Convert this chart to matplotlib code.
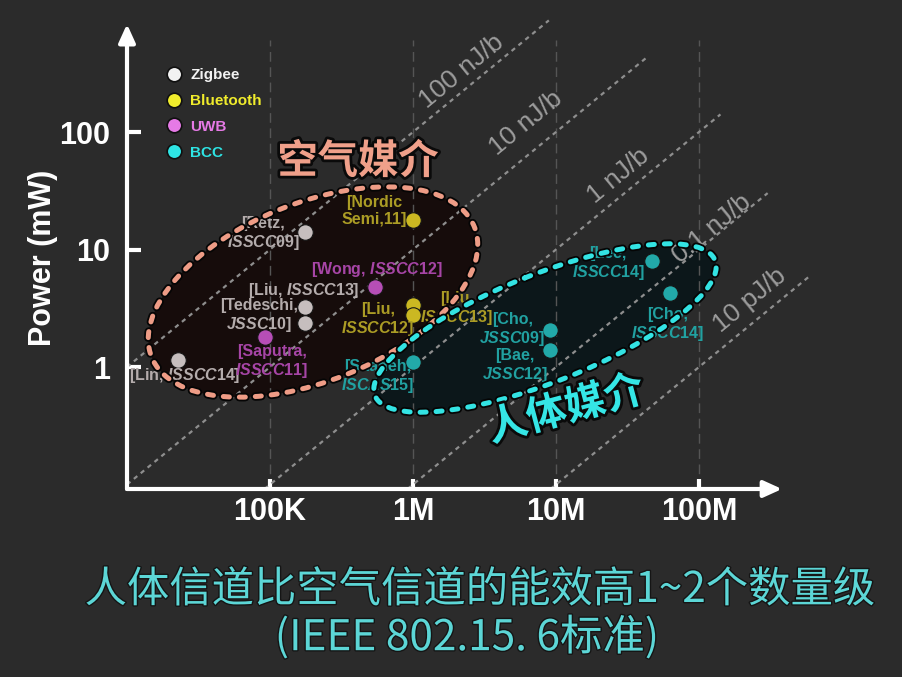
import numpy as np
import matplotlib
matplotlib.use('Agg')
import matplotlib.pyplot as plt
from matplotlib.patches import Ellipse
from matplotlib.lines import Line2D
from matplotlib.ticker import NullLocator
import matplotlib.patheffects as pe

plt.rcParams['font.family'] = ['Liberation Sans', 'Noto Sans CJK SC', 'DejaVu Sans']
plt.rcParams['mathtext.fontset'] = 'custom'
plt.rcParams['mathtext.it'] = 'Liberation Sans:italic:bold'
plt.rcParams['mathtext.rm'] = 'Liberation Sans:bold'
plt.rcParams['mathtext.bf'] = 'Liberation Sans:bold'

# ---------------- data ----------------
standards = ['Zigbee', 'Bluetooth', 'UWB', 'BCC']
work_std = ['Zigbee', 'Zigbee', 'Zigbee', 'Zigbee', 'UWB', 'UWB', 'Bluetooth',
            'Bluetooth', 'Bluetooth', 'BCC', 'BCC', 'BCC', 'BCC', 'BCC']
data_rate = [2.27e4, 1.76e5, 1.76e5, 1.76e5, 9.2e4, 5.4e5, 1.0e6,
             1.0e6, 1.0e6, 1.0e6, 9.1e6, 9.1e6, 4.7e7, 6.3e7]
power_mw = [1.15, 14.0, 3.24, 2.37, 1.8, 4.8, 17.7,
            3.37, 2.77, 1.1, 2.07, 1.4, 8.0, 4.3]
work_labels = ['[Lin, $\\mathit{ISSCC14}$]',
               '[Retz,\n$\\mathit{ISSCC09}$]',
               '[Liu, $\\mathit{ISSCC13}$]',
               '[Tedeschi,\n$\\mathit{JSSC10}$]',
               '[Saputra,\n$\\mathit{ISSCC11}$]',
               '[Wong, $\\mathit{ISSCC12}$]',
               '[Nordic\nSemi,11]',
               '[Liu,\n$\\mathit{ISSCC12}$]',
               '[Liu,\n$\\mathit{ISSCC13}$]',
               '[Saadeh,\n$\\mathit{ISCAS15}$]',
               '[Cho,\n$\\mathit{JSSC09}$]',
               '[Bae,\n$\\mathit{JSSC12}$]',
               '[Lee,\n$\\mathit{ISSCC14}$]',
               '[Cho,\n$\\mathit{ISSCC14}$]']

xtick_vals = [1e5, 1e6, 1e7, 1e8]
xtick_labels = ['100K', '1M', '10M', '100M']
ytick_vals = [1, 10, 100]
ytick_labels = ['1', '10', '100']

energy_jpb = [100e-9, 10e-9, 1e-9, 0.1e-9, 10e-12]
energy_labels = ['100 nJ/b', '10 nJ/b', '1 nJ/b', '0.1 nJ/b', '10 pJ/b']
energy_end_rate = [10 ** 6.95, 10 ** 7.64, 10 ** 8.15, 10 ** 8.48, 10 ** 8.78]
energy_label_rate = [10 ** 6.343, 10 ** 6.79, 10 ** 7.434, 10 ** 8.091, 10 ** 8.357]
energy_label_power = [10 ** 2.511, 10 ** 2.077, 10 ** 1.626, 10 ** 1.174, 10 ** 0.57]

region_labels = ['空气媒介', '人体媒介']
caption_lines = ['人体信道比空气信道的能效高1~2个数量级', '(IEEE 802.15. 6标准)']

# ---------------- style ----------------
BG = '#2b2b2b'
legend_colors = ['#f2f2f2', '#f0ec2c', '#e67ae6', '#2ee4e4']
point_colors = {'Zigbee': '#c6bebe', 'Bluetooth': '#cbb822', 'UWB': '#b64eb6', 'BCC': '#22a9a9'}
label_colors = {'Zigbee': '#b4acac', 'Bluetooth': '#ab9c25', 'UWB': '#a645a6', 'BCC': '#21a1a1'}
label_offsets = [(7, -16), (-42, -2), (-1, 17), (-46, 7), (7, -25), (2, 17), (-39, 9),
                 (-35, -15), (44, 6), (-35, -15), (-38, 0), (-35, -16), (-44, -3), (-3, -32)]

W, H = 903, 677
fig = plt.figure(figsize=(W / 100, H / 100), dpi=100, facecolor=BG)


def fx(px):
    return px / W


def fy(py):
    return 1 - py / H


ELL_AIR = dict(xy=(313, 292), width=348, height=178, angle=-22)
ELL_BODY = dict(xy=(545, 328), width=366, height=108, angle=-21.7)

# background overlay (ellipse fills)
bg_ax = fig.add_axes([0, 0, 1, 1], zorder=0)
bg_ax.set_xlim(0, W)
bg_ax.set_ylim(H, 0)
bg_ax.axis('off')
bg_ax.add_patch(Ellipse(**ELL_AIR, facecolor='#160c0b', edgecolor='none'))
bg_ax.add_patch(Ellipse(**ELL_BODY, facecolor='#0c171a', edgecolor='none'))

# main axes
ax = fig.add_axes([fx(127), fy(489), (770 - 127) / W, (489 - 35) / H], zorder=1)
ax.set_facecolor('none')
ax.set_xscale('log')
ax.set_yscale('log')
ax.set_xlim(1e4, 10 ** 8.4965)
ax.set_ylim(10 ** -1.038, 10 ** 2.8255)
for s in ax.spines.values():
    s.set_visible(False)

ax.set_xticks(xtick_vals)
ax.set_xticklabels(xtick_labels)
ax.set_yticks(ytick_vals)
ax.set_yticklabels(ytick_labels)
ax.xaxis.set_minor_locator(NullLocator())
ax.yaxis.set_minor_locator(NullLocator())
ax.tick_params(axis='x', direction='in', length=7, width=3, color='white',
               labelsize=22, labelcolor='white', pad=6)
ax.tick_params(axis='y', direction='in', length=10, width=3, color='white',
               labelsize=22, labelcolor='white', pad=12)
for lbl in ax.get_xticklabels() + ax.get_yticklabels():
    lbl.set_fontweight('bold')

ax.set_ylabel('Power (mW)', fontsize=22, fontweight='bold', color='white')
ax.yaxis.set_label_coords(-0.107, 0.509)

# vertical dashed grid
for xv in xtick_vals:
    ax.axvline(xv, ymin=0, ymax=0.99, color='#555555', lw=1.0, ls=(0, (7, 4)), zorder=1)

# energy-per-bit lines
ylo = ax.get_ylim()[0]
xlo = ax.get_xlim()[0]
for E, lab, rend, rl, pl in zip(energy_jpb, energy_labels, energy_end_rate,
                                energy_label_rate, energy_label_power):
    r0 = max(xlo, ylo / (E * 1e3))
    r = np.array([r0, rend])
    ax.plot(r, E * r * 1e3, color='#8e8e8e', lw=1.6, ls=(0, (2, 2)), clip_on=False, zorder=2)
    p1 = ax.transData.transform((1e5, E * 1e5 * 1e3))
    p2 = ax.transData.transform((1e6, E * 1e6 * 1e3))
    ang = np.degrees(np.arctan2(p2[1] - p1[1], p2[0] - p1[0]))
    ax.text(rl, pl, lab, rotation=ang, rotation_mode='anchor', ha='center', va='center',
            fontsize=19, color='#9c9c9c', zorder=2, clip_on=False)

# data points and labels
for r, p, st, txt, off in zip(data_rate, power_mw, work_std, work_labels, label_offsets):
    ax.scatter([r], [p], s=125, color=point_colors[st], edgecolors='#151515',
               linewidths=0.8, zorder=4, clip_on=False)
    ax.annotate(txt, xy=(r, p), xytext=off, textcoords='offset pixels',
                ha='center', va='center', multialignment='center',
                fontsize=11.5, fontweight='bold', color=label_colors[st],
                linespacing=1.15, zorder=5)

# legend
handles = [Line2D([0], [0], marker='o', ls='none', markersize=10.5, markerfacecolor=c,
                  markeredgecolor='#101010', markeredgewidth=1.2) for c in legend_colors]
ax.legend(handles, standards, loc='upper left', bbox_to_anchor=(fx(166), fy(68)),
          bbox_transform=fig.transFigure, frameon=False, prop={'weight': 'bold', 'size': 11},
          labelcolor=legend_colors, handlelength=1.0, handletextpad=0.6,
          labelspacing=0.78, borderpad=0, borderaxespad=0)

# axis arrows
arrow_kw = dict(arrowstyle='-|>,head_length=0.55,head_width=0.25', color='white', lw=3,
                shrinkA=0, shrinkB=0, mutation_scale=20)
ax.annotate('', xy=(1.0187, 0), xytext=(0, 0), xycoords='axes fraction',
            textcoords='axes fraction', arrowprops=arrow_kw, annotation_clip=False)
ax.annotate('', xy=(0, 1.024), xytext=(0, 0), xycoords='axes fraction',
            textcoords='axes fraction', arrowprops=arrow_kw, annotation_clip=False)

# top overlay: ellipse outlines and Chinese text
top = fig.add_axes([0, 0, 1, 1], zorder=2)
top.set_xlim(0, W)
top.set_ylim(H, 0)
top.axis('off')
top.set_facecolor('none')
outline_fx = [pe.Stroke(linewidth=6.2, foreground='#050505'), pe.Normal()]
top.add_patch(Ellipse(**ELL_AIR, fill=False, edgecolor='#ee9c86', lw=3.6,
                      ls=(0, (1.2, 2.0)), capstyle='round', path_effects=outline_fx))
top.add_patch(Ellipse(**ELL_BODY, fill=False, edgecolor='#33e3e3', lw=3.6,
                      ls=(0, (1.2, 2.0)), capstyle='round', path_effects=outline_fx))

cjk = ['Noto Sans CJK SC', 'DejaVu Sans']
top.text(358, 162, region_labels[0], fontsize=29, fontweight='bold', color='#f0a08a',
         ha='center', va='center', family=cjk,
         path_effects=[pe.withStroke(linewidth=4, foreground='#0a0a0a')])
top.text(566, 410, region_labels[1], fontsize=29, fontweight='bold', color='#35e6e6',
         rotation=15, ha='center', va='center', family=cjk,
         path_effects=[pe.withStroke(linewidth=4, foreground='#0a0a0a')])
top.text(480, 590, caption_lines[0], fontsize=30.5, color='#5cd6d6', ha='center', va='center',
         family=cjk, path_effects=[pe.withStroke(linewidth=2, foreground='#151515')])
top.text(467, 638, caption_lines[1], fontsize=30.5, color='#5cd6d6', ha='center', va='center',
         family=cjk, path_effects=[pe.withStroke(linewidth=2, foreground='#151515')])

fig.savefig('out.png', dpi=100, facecolor=BG)
